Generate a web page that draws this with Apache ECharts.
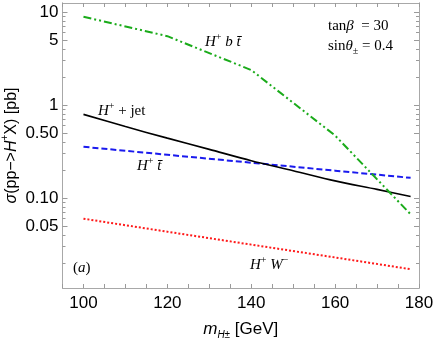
<!DOCTYPE html>
<html>
<head>
<meta charset="utf-8">
<script src="https://cdn.jsdelivr.net/npm/echarts@6/dist/echarts.min.js"></script>
<style>
html,body{margin:0;padding:0;background:#fff;}
#chart{width:436px;height:340px;}
</style>
</head>
<body>
<div id="chart"></div>
<script>
// ---- data ----
const massJet = [100, 110, 120, 130, 140, 150, 160, 170, 178];
const sigmaJet = [0.794, 0.587, 0.441, 0.334, 0.252, 0.197, 0.153, 0.124, 0.104];   // H+ + jet

const massOther = [100, 120, 140, 160, 178];
const sigmaBT = [8.9, 5.5, 2.38, 0.47, 0.067];          // H+ b tbar
const sigmaT = [0.356, 0.292, 0.240, 0.197, 0.165];     // H+ tbar
const sigmaW = [0.060, 0.0435, 0.0316, 0.023, 0.0172];  // H+ W-

const xLabelStep = 20;      // labelled x ticks: 100, 120, ..., 180
const xTickStep = 5;        // x ticks every 5 GeV
const yMajorTicks = [0.05, 0.1, 0.5, 1, 5, 10];
const yTickLabels = ['0.05', '0.10', '0.50', '1', '5', '10'];
const yMinorTicks = [0.02, 0.03, 0.04, 0.06, 0.07, 0.08, 0.09,
                     0.2, 0.3, 0.4, 0.6, 0.7, 0.8, 0.9,
                     2, 3, 4, 6, 7, 8, 9];

const X_MIN = 95, X_MAX = 180;
const Y_MIN = 0.0108, Y_MAX = 12.5;

const pairs = (xs, ys) => xs.map((x, i) => [x, ys[i]]);

const frameColor = '#a8a8a8';
const tickColor = '#9a9a9a';
const sans = 'Liberation Sans, Arial, sans-serif';
const serif = 'Liberation Serif, Times New Roman, serif';

function xAx(pos, labels, extra) {
  return Object.assign({
    type: 'value', position: pos, min: X_MIN, max: X_MAX, interval: xTickStep,
    axisLine: { show: true, lineStyle: { color: frameColor, width: 1 } },
    splitLine: { show: false },
    axisTick: { show: true, inside: true, length: 4, lineStyle: { color: tickColor, width: 1 } },
    axisLabel: labels ? {
      show: true, color: '#000', fontFamily: sans, fontSize: 17, margin: 7,
      formatter: function (v) { return (Math.round(v) % xLabelStep === 0) ? String(Math.round(v)) : ''; }
    } : { show: false }
  }, extra || {});
}
function yAx(pos, ticks, len, labels, extra) {
  return Object.assign({
    type: 'log', logBase: 10, position: pos, min: Y_MIN, max: Y_MAX,
    axisLine: { show: true, lineStyle: { color: frameColor, width: 1 } },
    splitLine: { show: false },
    axisTick: { show: true, inside: true, length: len, customValues: ticks, lineStyle: { color: tickColor, width: 1 } },
    axisLabel: labels ? {
      show: true, customValues: yMajorTicks, color: '#000', fontFamily: sans, fontSize: 17, margin: 4,
      formatter: function (v) {
        for (let i = 0; i < yMajorTicks.length; i++) {
          if (Math.abs(yMajorTicks[i] - v) / yMajorTicks[i] < 1e-6) return yTickLabels[i];
        }
        return '';
      }
    } : { show: false }
  }, extra || {});
}

const chart = echarts.init(document.getElementById('chart'), null, { renderer: 'canvas' });

const supStyle = { fontFamily: serif, fontSize: 10, lineHeight: 11, verticalAlign: 'top' };
const itStyle = { fontStyle: 'italic', fontFamily: serif, fontSize: 15, lineHeight: 20 };

const option = {
  animation: false,
  backgroundColor: '#fff',
  grid: { left: 62.5, right: 17, top: 3, bottom: 52, outerBoundsMode: 'none' },
  xAxis: [
    xAx('bottom', true, {
      name: '{i|m}{sub|H±} [GeV]',
      nameLocation: 'middle', nameGap: 30,
      nameTextStyle: {
        color: '#000', fontFamily: sans, fontSize: 17, lineHeight: 22,
        rich: {
          i: { fontStyle: 'italic', fontFamily: sans, fontSize: 17, lineHeight: 22 },
          sub: { fontStyle: 'italic', fontFamily: sans, fontSize: 10, lineHeight: 11, verticalAlign: 'bottom' }
        }
      }
    }),
    xAx('top', false)
  ],
  yAxis: [
    yAx('left', yMajorTicks, 5, true, {
      name: '{i|σ}(pp−>{i|H}{sup|+}X) [pb]',
      nameLocation: 'middle', nameGap: 40, nameRotate: 90, nameMoveOverlap: false,
      nameTextStyle: {
        color: '#000', fontFamily: sans, fontSize: 16, lineHeight: 22,
        rich: {
          i: { fontStyle: 'italic', fontFamily: sans, fontSize: 16, lineHeight: 22 },
          sup: { fontFamily: sans, fontSize: 10, lineHeight: 12, verticalAlign: 'top' }
        }
      }
    }),
    yAx('left', yMinorTicks, 3, false),
    yAx('right', yMajorTicks, 5, false),
    yAx('right', yMinorTicks, 3, false)
  ],
  series: [
    {
      name: 'H+ W-', type: 'line', data: pairs(massOther, sigmaW), showSymbol: false, symbol: 'none',
      lineStyle: { color: '#ff1a1a', width: 2, type: [2, 2] }
    },
    {
      name: 'H+ tbar', type: 'line', data: pairs(massOther, sigmaT), showSymbol: false, symbol: 'none',
      lineStyle: { color: '#1a1aee', width: 2, type: [6, 3] }
    },
    {
      name: 'H+ + jet', type: 'line', data: pairs(massJet, sigmaJet), showSymbol: false, symbol: 'none',
      smooth: 0.3,
      lineStyle: { color: '#000', width: 1.6, type: 'solid' }
    },
    {
      name: 'H+ b tbar', type: 'line', data: pairs(massOther, sigmaBT), showSymbol: false, symbol: 'none',
      lineStyle: { color: '#1aab1a', width: 2, type: [8, 3, 2, 3, 2, 3] }
    }
  ],
  graphic: [
    { type: 'text', left: 98, top: 101,
      style: { text: '{i|H}{sup|+} + jet', fill: '#000', font: '15px ' + serif, lineHeight: 20, rich: { i: itStyle, sup: supStyle } } },
    { type: 'text', left: 137, top: 156,
      style: { text: '{i|H}{sup|+} {i|t\u0304}', fill: '#000', font: '15px ' + serif, lineHeight: 20, rich: { i: itStyle, sup: supStyle } } },
    { type: 'text', left: 205, top: 32,
      style: { text: '{i|H}{sup|+} {i|b t\u0304}', fill: '#000', font: '15px ' + serif, lineHeight: 20, rich: { i: itStyle, sup: supStyle } } },
    { type: 'text', left: 250, top: 255,
      style: { text: '{i|H}{sup|+} {i|W}{sup|−}', fill: '#000', font: '15px ' + serif, lineHeight: 20, rich: { i: itStyle, sup: supStyle } } },
    { type: 'text', left: 73, top: 258,
      style: { text: '({i|a})', fill: '#000', font: '15px ' + serif, lineHeight: 20, rich: { i: itStyle } } },
    { type: 'text', left: 328, top: 16,
      style: { text: 'tan{i|β}  = 30', fill: '#000', font: '15px ' + serif, lineHeight: 20, rich: { i: itStyle } } },
    { type: 'text', left: 328, top: 36,
      style: { text: 'sin{i|θ}{sub|±} = 0.4', fill: '#000', font: '15px ' + serif, lineHeight: 20,
        rich: { i: itStyle, sub: { fontFamily: serif, fontSize: 10, lineHeight: 11, verticalAlign: 'bottom' } } } }
  ]
};

chart.setOption(option);
</script>
</body>
</html>
